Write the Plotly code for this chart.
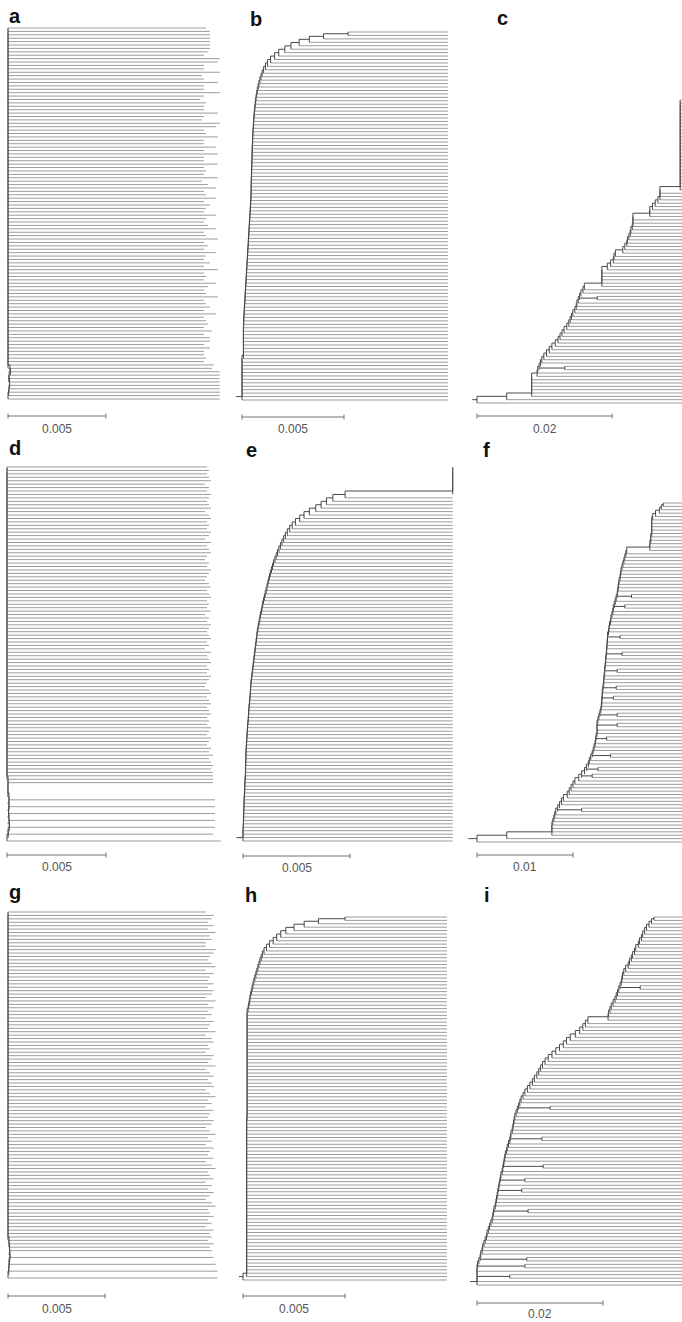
import plotly.graph_objects as go

W, H = 682, 1322

# ------------------------------------------------------------------
# DATA  (branch depths in units of 1e-4 substitutions/site;
#        leaves listed from top to bottom; node = depth where the leaf
#        joins the tree, tip = depth of the leaf tip)
# ------------------------------------------------------------------
panel_letters = ["a", "b", "c", "d", "e", "f", "g", "h", "i"]
scale_values = [0.005, 0.005, 0.02, 0.005, 0.005, 0.01, 0.005, 0.005, 0.02]
scale_labels = ["0.005", "0.005", "0.02", "0.005", "0.005", "0.01", "0.005", "0.005", "0.02"]
root_stub = [0, 3, 7, 0, 3, 9, 0, 2, 11]

a_node = [0, 0, 0, 0, 0, 0, 0, 0, 0, 0,
          0, 0, 0, 0, 0, 0, 0, 0, 0, 0,
          0, 0, 0, 0, 0, 0, 0, 0, 0, 0,
          0, 0, 0, 0, 0, 0, 0, 0, 0, 0,
          0, 0, 0, 0, 0, 0, 0, 0, 0, 0,
          0, 0, 0, 0, 0, 0, 0, 0, 0, 0,
          0, 0, 0, 0, 0, 0, 0, 0, 0, 0,
          0, 0, 0, 0, 0, 0, 0, 0, 0, 0,
          0, 0, 0, 0, 0, 0, 0, 0, 0, 0,
          0, 0, 0, 0, 0, 0, 0, 0, 0, 0,
          0, 1.0, 1.2, 0.6, 0.4, 0.8, 0.8, 0.5, 0.3, 0]
a_tip = [101, 103, 103, 103, 103, 103, 103, 102, 100, 108,
         107, 100, 100, 108, 99, 100, 107, 100, 100, 108,
         100, 98, 101, 100, 100, 107, 100, 99, 108, 106,
         100, 101, 107, 100, 100, 106, 100, 107, 100, 100,
         107, 100, 101, 100, 107, 99, 102, 106, 100, 101,
         106, 100, 103, 101, 100, 106, 101, 100, 102, 106,
         100, 101, 107, 100, 102, 100, 106, 101, 100, 103,
         100, 107, 100, 101, 100, 106, 102, 100, 101, 107,
         100, 101, 103, 100, 106, 100, 101, 102, 100, 104,
         100, 103, 103, 100, 103, 100, 100, 101, 100, 105,
         104, 108, 108, 108, 108, 108, 108, 108, 108, 108]

b_node = [52, 52, 40, 33, 28, 24, 21, 18, 16, 14,
          12.5, 11.5, 10.6, 9.9, 9.3, 8.8, 8.3, 7.9, 7.5, 7.2,
          6.9, 6.7, 6.5, 6.3, 6.1, 6.0, 5.8, 5.7, 5.6, 5.5,
          5.4, 5.3, 5.2, 5.2, 5.1, 5.0, 5.0, 4.9, 4.9, 4.8,
          4.8, 4.7, 4.7, 4.6, 4.6, 4.5, 4.5, 4.5, 4.4, 4.4,
          4.3, 4.2, 4.1, 4.0, 3.9, 3.8, 3.7, 3.6, 3.5, 3.4,
          3.3, 3.2, 3.1, 3.0, 2.9, 2.8, 2.7, 2.6, 2.5, 2.4,
          2.3, 2.2, 2.1, 2.0, 1.9, 1.8, 1.7, 1.6, 1.5, 1.4,
          1.3, 1.2, 1.1, 1.0, 0.9, 0.8, 0.8, 0.7, 0.7, 0.7,
          0.7, 0.7, 0.7, 0.7, 0.7, 0.7, 0, 0, 0, 0,
          0, 0, 0, 0, 0, 0, 0, 0]
b_tip = 101

c_node = [301, 301, 301, 301, 301, 301, 301, 301, 301, 301,
          301, 301, 301, 301, 301, 301, 301, 301, 301, 301,
          301, 301, 301, 301, 301, 301, 301, 301, 271, 271,
          271, 268, 264, 260, 256, 256, 231, 231, 231, 230,
          228, 227, 225, 223, 222, 219, 216, 205, 203, 202,
          198, 193, 185, 185, 185, 185, 185, 159, 157, 154,
          152, 150, 148, 147, 145, 142, 140, 138, 136, 133,
          129, 126, 123, 120, 116, 111, 107, 103, 99, 96,
          94, 92, 90, 89, 81, 81, 81, 81, 81, 81,
          44, 0]
c_tip = 345
c_cherry_leaf = [59, 80]
c_cherry_depth = [178, 130]

d_node = [0, 0, 0, 0, 0, 0, 0, 0, 0, 0,
          0, 0, 0, 0, 0, 0, 0, 0, 0, 0,
          0, 0, 0, 0, 0, 0, 0, 0, 0, 0,
          0, 0, 0, 0, 0, 0, 0, 0, 0, 0,
          0, 0, 0, 0, 0, 0, 0, 0, 0, 0,
          0, 0, 0, 0, 0, 0, 0, 0, 0, 0,
          0, 0, 0, 0, 0, 0, 0, 0, 0, 0,
          0, 0, 0, 0, 0, 0, 0, 0, 0, 0,
          0, 0, 0, 0, 0, 0, 0, 0, 0, 0,
          0, 0, 0.5, 0.5, 0.5, 0.5, 0.5, 1, 1, 1,
          1, 0.8, 0.8, 1, 1, 1.2, 1.2, 0.6, 0.6, 0]
d_tip = [101, 102, 101, 102, 103, 100, 102, 101, 103, 102,
         101, 102, 103, 100, 102, 103, 101, 102, 101, 103,
         102, 100, 103, 101, 102, 103, 101, 100, 102, 101,
         103, 102, 101, 100, 102, 103, 101, 102, 103, 101,
         102, 101, 103, 100, 102, 101, 103, 102, 101, 102,
         103, 101, 102, 100, 103, 101, 102, 103, 101, 102,
         101, 103, 102, 101, 100, 102, 103, 101, 102, 103,
         101, 102, 103, 101, 102, 101, 103, 102, 101, 103,
         102, 101, 103, 102, 104, 102, 103, 104, 103, 104,
         104, 104, 104, 0, 0, 0, 0, 105, 0, 105,
         0, 105, 0, 105, 0, 105, 0, 104, 0, 108]

e_node = [98, 98, 98, 98, 98, 98, 98, 98, 98, 47.7,
          42, 39, 36.5, 34, 31, 28.5, 26.5, 24.5, 23, 21.8,
          20.7, 19.8, 19, 18.2, 17.5, 16.8, 16.1, 15.5, 14.9, 14.3,
          13.8, 13.3, 12.8, 12.4, 12.0, 11.6, 11.2, 10.8, 10.4, 10.0,
          9.6, 9.2, 8.9, 8.6, 8.2, 7.9, 7.6, 7.3, 7.0, 6.7,
          6.5, 6.3, 6.1, 5.9, 5.7, 5.5, 5.3, 5.1, 4.9, 4.7,
          4.5, 4.3, 4.1, 3.9, 3.7, 3.6, 3.5, 3.4, 3.3, 3.1,
          3.0, 2.8, 2.7, 2.6, 2.5, 2.4, 2.2, 2.1, 2.0, 1.9,
          1.8, 1.7, 1.6, 1.5, 1.4, 1.4, 1.3, 1.3, 1.2, 1.2,
          1.2, 1.1, 1.0, 0.9, 0.8, 0.8, 0.7, 0.6, 0.5, 0.5,
          0.4, 0.4, 0.3, 0.3, 0.2, 0.2, 0.1, 0, 0, 0]
e_tip = 98

f_node = [194, 194, 192, 190, 186, 183, 182, 182, 182, 182,
          182, 181, 181, 180, 180, 156, 155, 154, 153, 152,
          151, 150, 149.5, 149, 148, 147.5, 147, 146.5, 146, 145,
          144, 143, 142, 141.5, 140.5, 139.5, 139, 138, 137.5, 137,
          136, 136, 135.5, 135.5, 135, 135, 134.5, 134, 134, 133.5,
          133, 133, 132.5, 132, 132, 131.5, 131, 130.5, 130.5, 130,
          130, 129.5, 129, 128, 127, 126, 125, 125, 125, 125,
          124, 123.5, 123, 122, 121, 120, 118.5, 117, 116, 114,
          112, 109, 106, 102, 100, 98, 96, 94, 90, 88,
          86, 84, 82, 81, 80, 79, 78, 78, 78, 31,
          0]
f_tip = 240
f_cherry_leaf = [27, 30, 39, 44, 49, 54, 57, 62, 65, 69, 74, 78, 80, 90]
f_cherry_depth = [161, 154, 149, 151, 146, 145, 142, 146, 146, 135, 139, 126, 120, 109]

g_node = [0, 0, 0, 0, 0, 0, 0, 0, 0, 0,
          0, 0, 0, 0, 0, 0, 0, 0, 0, 0,
          0, 0, 0, 0, 0, 0, 0, 0, 0, 0,
          0, 0, 0, 0, 0, 0, 0, 0, 0, 0,
          0, 0, 0, 0, 0, 0, 0, 0, 0, 0,
          0, 0, 0, 0, 0, 0, 0, 0, 0, 0,
          0, 0, 0, 0, 0, 0, 0, 0, 0, 0,
          0, 0, 0, 0, 0, 0, 0, 0, 0, 0,
          0, 0, 0, 0, 0, 0, 0, 0, 0, 0,
          0, 0, 0, 0, 0, 0, 0, 0.5, 0.5, 0.8,
          0.8, 1.0, 1.0, 0.6, 0.6, 0.4, 0.4, 0]
g_tip = [102, 106, 105, 103, 106, 103, 107, 104, 105, 102,
         102, 107, 106, 104, 103, 105, 107, 102, 106, 104,
         103, 106, 103, 106, 105, 102, 107, 103, 106, 103,
         105, 102, 106, 104, 103, 107, 102, 105, 106, 103,
         104, 102, 106, 105, 103, 107, 102, 104, 106, 103,
         105, 106, 102, 104, 107, 103, 105, 102, 106, 104,
         103, 106, 105, 102, 104, 107, 103, 105, 102, 106,
         104, 103, 106, 102, 105, 107, 103, 104, 106, 102,
         105, 103, 106, 104, 102, 105, 107, 103, 104, 106,
         103, 105, 102, 106, 104, 105, 103, 106, 104, 105,
         0, 106, 0, 107, 0, 108, 0, 108]

h_node = [50, 50, 37, 30, 25, 21, 18.5, 16.5, 14.8, 13,
          11.5, 10.3, 9.5, 8.9, 8.3, 7.8, 7.3, 6.8, 6.3, 5.8,
          5.3, 4.9, 4.5, 4.1, 3.7, 3.4, 3.1, 2.8, 2.5, 2.0,
          2.0, 2.0, 2.0, 2.0, 2.0, 2.0, 2.0, 2.0, 2.0, 2.0,
          2.0, 2.0, 2.0, 2.0, 2.0, 2.0, 2.0, 2.0, 2.0, 2.0,
          2.0, 2.0, 2.0, 2.0, 2.0, 2.0, 2.0, 2.0, 2.0, 2.0,
          2.0, 1.8, 1.8, 1.8, 1.8, 1.8, 1.8, 1.8, 1.8, 1.8,
          1.8, 1.8, 1.8, 1.8, 1.8, 1.8, 1.8, 1.8, 1.8, 1.8,
          1.8, 1.8, 1.8, 1.8, 1.8, 1.8, 1.8, 1.8, 1.8, 1.8,
          1.8, 1.8, 1.8, 1.8, 1.8, 1.8, 1.8, 1.8, 1.8, 1.8,
          1.8, 1.8, 1.8, 1.8, 1.8, 1.8, 1.8, 0]
h_tip = 100

i_node = [281, 281, 277, 273, 269, 266, 263, 261, 258, 256,
          252, 250, 247, 245, 242, 240, 236, 233, 231, 230,
          229, 227, 225, 223, 221, 219, 216, 213, 211, 209,
          208, 176, 172, 168, 163, 156, 148, 142, 137, 131,
          125, 119, 113, 108, 104, 101, 98, 95, 91, 88,
          84, 80, 76, 73, 70, 68, 66, 64, 62, 60,
          59, 58, 57, 56, 54, 53, 52, 50, 48, 47,
          45, 44, 43, 42, 41, 40, 38, 37, 36, 35,
          34, 33, 32, 31, 30, 29, 27, 26, 25, 24,
          22, 20, 18, 16, 15, 13, 11, 9, 8, 6,
          5, 3, 1, 0, 0, 0, 0, 0]
i_tip = 345
i_cherry_leaf = [20, 55, 64, 72, 76, 79, 85, 99, 101, 104]
i_cherry_depth = [259, 116, 103, 105, 76, 71, 81, 79, 76, 52]

trees = [(a_node, a_tip, [], []), (b_node, b_tip, [], []),
         (c_node, c_tip, c_cherry_leaf, c_cherry_depth),
         (d_node, d_tip, [], []), (e_node, e_tip, [], []),
         (f_node, f_tip, f_cherry_leaf, f_cherry_depth),
         (g_node, g_tip, [], []), (h_node, h_tip, [], []),
         (i_node, i_tip, i_cherry_leaf, i_cherry_depth)]

# ------------------------------------------------------------------
# LAYOUT (pixel geometry of each panel)
# ------------------------------------------------------------------
PANELS = [
    dict(col=(0, 230), row=(0, 440), x0=8, bar_px=98, top=28, bot=399, bar_y=416, lab_y=429, let=(15, 16)),
    dict(col=(230, 460), row=(0, 440), x0=242, bar_px=102, top=32, bot=400, bar_y=417, lab_y=429, let=(256, 19)),
    dict(col=(460, 682), row=(0, 440), x0=477, bar_px=135, top=100, bot=403, bar_y=416, lab_y=429, let=(502, 18)),
    dict(col=(0, 230), row=(440, 880), x0=7, bar_px=99, top=467, bot=841, bar_y=855, lab_y=867, let=(15, 448)),
    dict(col=(230, 460), row=(440, 880), x0=243, bar_px=107, top=467, bot=841, bar_y=856, lab_y=868, let=(251, 450)),
    dict(col=(460, 682), row=(440, 880), x0=477, bar_px=96, top=503, bot=842, bar_y=855, lab_y=867, let=(486, 450)),
    dict(col=(0, 230), row=(880, 1322), x0=8, bar_px=97, top=912, bot=1278, bar_y=1296, lab_y=1309, let=(15, 892)),
    dict(col=(230, 460), row=(880, 1322), x0=243, bar_px=102, top=917, bot=1280, bar_y=1296, lab_y=1309, let=(251, 895)),
    dict(col=(460, 682), row=(880, 1322), x0=477, bar_px=126, top=917, bot=1285, bar_y=1303, lab_y=1314, let=(487, 895)),
]

LEAF_COLOR = "#9c9c9c"
SPINE_COLOR = "#4a4a4a"
BAR_COLOR = "#707070"


def ladder(node, tip, cherry_leaf, cherry_depth, stub):
    n = len(node)
    tips = tip if isinstance(tip, list) else [tip] * n
    start = list(node)
    cx, cy = [], []
    for k, s in zip(cherry_leaf, cherry_depth):
        start[k] = s
        start[k + 1] = s
        cx += [s, s, None, node[k + 1], s, None]
        cy += [k, k + 1, None, k + 0.5, k + 0.5, None]
    lx, ly, sx, sy = [], [], [], []
    for k in range(n):
        if tips[k] != start[k]:
            lx += [start[k], tips[k], None]
            ly += [k, k, None]
    yc = 0.0
    for k in range(1, n):
        sx += [node[k], node[k], None]
        sy += [yc, k, None]
        if k >= 2 and node[k] != node[k - 1]:
            sx += [node[k], node[k - 1], None]
            sy += [yc, yc, None]
        yc = (yc + k) / 2.0
    if stub:
        sx += [node[-1] - stub, node[-1], None]
        sy += [yc, yc, None]
    return lx, ly, sx + cx, sy + cy


fig = go.Figure()
annotations = []

for p, (P, (node, tip, chl, chd)) in enumerate(zip(PANELS, trees)):
    n = len(node)
    if isinstance(tip, list):
        assert len(tip) == n, (panel_letters[p], len(tip), n)
    ax = "" if p == 0 else str(p + 1)
    k = P["bar_px"] / (scale_values[p] * 1e4)          # px per unit
    sp = (P["bot"] - P["top"]) / (n - 1)                # px per leaf
    xr = [(P["col"][0] - P["x0"]) / k, (P["col"][1] - P["x0"]) / k]
    yr = [(P["row"][1] - P["top"]) / sp, (P["row"][0] - P["top"]) / sp]

    lx, ly, sx, sy = ladder(node, tip, chl, chd, root_stub[p])
    fig.add_trace(go.Scatter(x=lx, y=ly, mode="lines", xaxis="x" + ax, yaxis="y" + ax,
                             line=dict(color=LEAF_COLOR, width=1), hoverinfo="skip", showlegend=False))
    fig.add_trace(go.Scatter(x=sx, y=sy, mode="lines", xaxis="x" + ax, yaxis="y" + ax,
                             line=dict(color=SPINE_COLOR, width=1), hoverinfo="skip", showlegend=False))

    # scale bar
    L = scale_values[p] * 1e4
    yb = (P["bar_y"] - P["top"]) / sp
    t = 2.5 / sp
    bx = [0, L, None, 0, 0, None, L, L]
    by = [yb, yb, None, yb - t, yb + t, None, yb - t, yb + t]
    fig.add_trace(go.Scatter(x=bx, y=by, mode="lines", xaxis="x" + ax, yaxis="y" + ax,
                             line=dict(color=BAR_COLOR, width=1), hoverinfo="skip", showlegend=False))
    annotations.append(dict(x=L / 2, y=(P["lab_y"] - P["top"]) / sp, xref="x" + ax, yref="y" + ax,
                            text=scale_labels[p], showarrow=False, xanchor="center", yanchor="middle",
                            font=dict(family="Liberation Sans, Arial", size=12, color="#555555")))
    annotations.append(dict(x=P["let"][0] / W, y=1 - P["let"][1] / H, xref="paper", yref="paper",
                            text="<b>%s</b>" % panel_letters[p], showarrow=False,
                            xanchor="center", yanchor="middle",
                            font=dict(family="Liberation Sans, Arial", size=20, color="#111111")))

    axis_common = dict(visible=False, showgrid=False, zeroline=False, fixedrange=True)
    fig.layout["xaxis" + ax] = dict(axis_common, domain=[P["col"][0] / W, P["col"][1] / W],
                                    range=xr, anchor="y" + ax)
    fig.layout["yaxis" + ax] = dict(axis_common, domain=[1 - P["row"][1] / H, 1 - P["row"][0] / H],
                                    range=yr, anchor="x" + ax)

fig.update_layout(width=W, height=H, margin=dict(l=0, r=0, t=0, b=0),
                  paper_bgcolor="white", plot_bgcolor="white",
                  annotations=annotations, showlegend=False)

fig.write_html("out.html", config={"displayModeBar": False})
